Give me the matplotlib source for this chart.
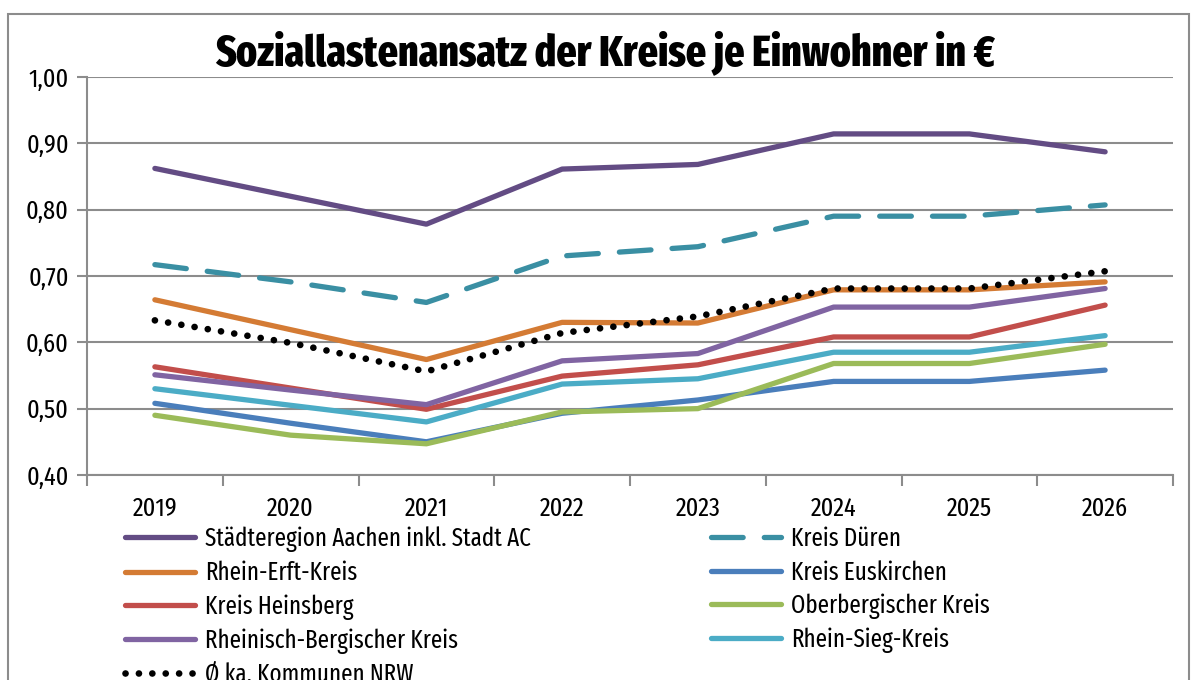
import numpy as np
import matplotlib.pyplot as plt
from matplotlib.patches import Rectangle
from matplotlib.ticker import FuncFormatter

plt.rcParams['font.family'] = ['Fira Sans Extra Condensed', 'Fira Sans Condensed', 'DejaVu Sans']

years = ['2019', '2020', '2021', '2022', '2023', '2024', '2025', '2026']

aachen = [0.862, 0.820, 0.778, 0.861, 0.868, 0.914, 0.914, 0.887]
dueren = [0.717, 0.691, 0.660, 0.730, 0.744, 0.790, 0.790, 0.807]
rhein_erft = [0.664, 0.619, 0.574, 0.630, 0.629, 0.679, 0.679, 0.691]
euskirchen = [0.508, 0.478, 0.450, 0.493, 0.513, 0.541, 0.541, 0.558]
heinsberg = [0.563, 0.531, 0.499, 0.549, 0.566, 0.608, 0.608, 0.656]
oberberg = [0.490, 0.460, 0.447, 0.495, 0.500, 0.568, 0.568, 0.597]
rhein_berg = [0.551, 0.528, 0.506, 0.572, 0.583, 0.653, 0.653, 0.681]
rhein_sieg = [0.530, 0.505, 0.480, 0.537, 0.545, 0.585, 0.585, 0.610]
nrw = [0.633, 0.599, 0.556, 0.614, 0.639, 0.681, 0.681, 0.707]

series = [
    ('Städteregion Aachen inkl. Stadt AC', aachen, '#634C84', '-'),
    ('Kreis Düren', dueren, '#3A8FA3', (0, (6, 4))),
    ('Rhein-Erft-Kreis', rhein_erft, '#D47B34', '-'),
    ('Kreis Euskirchen', euskirchen, '#4A7EBB', '-'),
    ('Kreis Heinsberg', heinsberg, '#C24E4B', '-'),
    ('Oberbergischer Kreis', oberberg, '#9BBB59', '-'),
    ('Rheinisch-Bergischer Kreis', rhein_berg, '#8064A2', '-'),
    ('Rhein-Sieg-Kreis', rhein_sieg, '#4BACC6', '-'),
]

fig = plt.figure(figsize=(12, 6.8), dpi=100)
ax = fig.add_axes([0.0725, 0.3015, 0.905, 0.5855])

x = np.arange(len(years))
handles = {}
for name, vals, col, ls in series:
    h, = ax.plot(x, vals, color=col, lw=3.8, ls=ls, label=name,
                 solid_capstyle='round', dash_capstyle='round')
    handles[name] = h
h, = ax.plot(x, nrw, color='black', lw=4.8, ls=(0, (0.01, 2.0)),
             dash_capstyle='round', label='Ø ka. Kommunen NRW')
handles['Ø ka. Kommunen NRW'] = h

ax.set_xlim(-0.5, len(years) - 0.5)
ax.set_ylim(0.40, 1.00)
ax.set_yticks(np.arange(0.40, 1.001, 0.10))
ax.yaxis.set_major_formatter(FuncFormatter(lambda v, p: f'{v:.2f}'.replace('.', ',')))
ax.set_xticks(x)
ax.set_xticklabels(years)
ax.set_xticks(np.arange(-0.5, len(years), 1.0), minor=True)
ax.tick_params(axis='x', which='major', length=0, pad=15, labelsize=19)
ax.tick_params(axis='x', which='minor', length=8, color='#8C8C8C', width=1.5)
ax.tick_params(axis='y', length=7, color='#8C8C8C', width=1.5, labelsize=19, pad=6)
ax.grid(axis='y', color='#8C8C8C', lw=1.5)
ax.set_axisbelow(True)
for s in ['top', 'right']:
    ax.spines[s].set_visible(False)
for s in ['left', 'bottom']:
    ax.spines[s].set_color('#8C8C8C')
    ax.spines[s].set_linewidth(1.5)

fig.text(0.504, 0.922, 'Soziallastenansatz der Kreise je Einwohner in €',
         ha='center', va='center', fontsize=31, fontweight='heavy')

# legend is filled column by column; this order gives the row layout of the original
order = ['Städteregion Aachen inkl. Stadt AC', 'Rhein-Erft-Kreis', 'Kreis Heinsberg',
         'Rheinisch-Bergischer Kreis', 'Ø ka. Kommunen NRW',
         'Kreis Düren', 'Kreis Euskirchen', 'Oberbergischer Kreis', 'Rhein-Sieg-Kreis']
fig.legend(handles=[handles[k] for k in order], loc='upper left',
           bbox_to_anchor=(0.104, 0.226), ncol=2, frameon=False, fontsize=18,
           handlelength=2.8, columnspacing=7.2, labelspacing=0.34, handletextpad=0.4,
           borderpad=0, borderaxespad=0)

fig.patches.append(Rectangle((0.007, -0.1), 0.984, 1.08, transform=fig.transFigure,
                             fill=False, edgecolor='#8C8C8C', lw=1.5))

fig.savefig('out.png', dpi=100)
